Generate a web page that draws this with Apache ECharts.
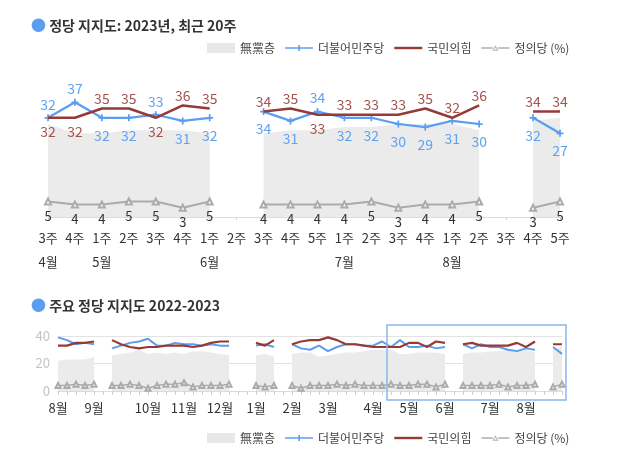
<!DOCTYPE html>
<html><head><meta charset="utf-8">
<script src="https://cdn.jsdelivr.net/npm/echarts@6/dist/echarts.min.js"></script>
<style>html,body{margin:0;padding:0;background:#fff}#c{width:640px;height:457px}</style>
</head><body><div id="c"></div>
<script>
// ---------- recent 20 weeks (2023) ----------
const weekLabels  = ['3주','4주','1주','2주','3주','4주','1주','2주','3주','4주','5주','1주','2주','3주','4주','1주','2주','3주','4주','5주'];
const monthLabels = ['4월','','5월','','','','6월','','','','','7월','','','','8월','','','',''];
const recentNone    = [30,27,27,28,28,28,27,null,27,28,28,29,29,30,30,30,28,null,31,32];
const recentMinju   = [32,37,32,32,33,31,32,null,34,31,34,32,32,30,29,31,30,null,32,27];
const recentPPP     = [32,32,35,35,32,36,35,null,34,35,33,33,33,33,35,32,36,null,34,34];
const recentJustice = [5,4,4,5,5,3,5,null,4,4,4,4,5,3,4,4,5,null,3,5];

// ---------- overview 2022-2023 (weekly) ----------
const overviewMonthIdx   = [0,4,10,14,18,22,26,30,35,39,43,48,52];
const overviewMonthNames = ['8월','9월','10월','11월','12월','1월','2월','3월','4월','5월','6월','7월','8월'];
const overviewTicks = [0,20,40];
const ovNone    = [22,23,23,23,25,null,26,27,28,30,27,28,27,28,27,29,29,28,27,26,null,null,26,27,25,null,27,28,28,25,26,27,28,28,29,30,30,30,27,27,28,28,28,27,null,27,28,28,29,29,30,30,30,28,null,31,32];
const ovMinju   = [39,37,34,35,34,null,31,33,35,36,38,33,33,35,34,34,33,34,33,33,null,null,33,34,32,null,34,31,30,33,29,32,34,34,33,33,36,32,37,32,32,33,31,32,null,34,31,34,32,32,30,29,31,30,null,32,27];
const ovPPP     = [33,33,35,35,36,null,37,34,32,31,32,32,33,33,33,32,33,35,36,36,null,null,35,33,37,null,34,36,37,37,39,37,34,34,33,32,32,32,32,35,35,32,36,35,null,34,35,33,33,33,33,35,32,36,null,34,34];
const ovJustice = [4,4,5,4,5,null,4,4,5,4,2,4,5,5,6,3,4,4,4,5,null,null,4,3,4,null,4,2,4,4,4,5,4,5,4,4,4,5,4,4,5,5,3,5,null,4,4,4,4,5,3,4,4,5,null,3,5];
const highlightFrom = 37, highlightTo = 56;

const C_BLUE = '#5a9ef2', C_RED = '#963a37', C_GREY = '#ababab', C_AREA = '#ebebeb';
const C_BLUE_T = '#5ea3f2', C_RED_T = '#a4534d';
const FONT = "'Noto Sans CJK KR', 'Noto Sans', sans-serif";
const PLUS = 'path://M3,0h2v8h-2z M0,3h8v2h-8z';

function blueOnTop(i){
  const b = recentMinju[i], r = recentPPP[i];
  if (b !== r) return b > r;
  const nb = recentMinju[i+1], nr = recentPPP[i+1];
  return nb != null && nb >= nr;
}
const lab = (pos) => pos === 'top' ? {position:'top', distance:3} : {position:'bottom', distance:7};
const minjuData = recentMinju.map((v,i)=> v==null ? null : {value:v, label: lab(blueOnTop(i)?'top':'bottom')});
const pppData   = recentPPP.map((v,i)=> v==null ? null : {value:v, label: lab(blueOnTop(i)?'bottom':'top')});

const weekIdx = recentNone.map((_,i)=>String(i));
const ovIdx = ovNone.map((_,i)=>String(i));

const legendData = [
  {name:'無黨층', icon:'rect', itemStyle:{color:'#e8e8e8'}},
  {name:'더불어민주당', icon:'path://M0,4.3h28v1.6h-28z M13.3,2h1.6v6.2h-1.6z', itemStyle:{color:C_BLUE}},
  {name:'국민의힘', icon:'path://M0,0h28v2.4h-28z', itemStyle:{color:C_RED}},
  {name:'정의당 (%)', icon:'path://M0,4.4h11.3v1.5h-11.3z M16.7,4.4h11.3v1.5h-11.3z M11,7.8L14,2.3L17,7.8Z M12.6,6.9L15.4,6.9L14,4.3Z', itemStyle:{color:'#b0b0b0'}}
];
const legendBase = {left:202, itemWidth:28, itemHeight:10, itemGap:10, selectedMode:false, symbolKeepAspect:true,
  textStyle:{fontSize:12, color:'#444', fontFamily:FONT}, data:legendData};

const chart = echarts.init(document.getElementById('c'), null, {renderer:'canvas'});
const titleRich = {d:{color:'#5a9ef2', fontSize:15, fontFamily:FONT}, t:{fontSize:14, fontWeight:'bold', color:'#333', fontFamily:FONT}};
chart.setOption({
  animation:false,
  textStyle:{fontFamily:FONT},
  title:[
    {left:26, top:13, text:'{d|●}{t| 정당 지지도: 2023년, 최근 20주}', textStyle:{rich:titleRich}},
    {left:26, top:293, text:'{d|●}{t| 주요 정당 지지도 2022-2023}', textStyle:{rich:titleRich}}
  ],
  legend:[ Object.assign({top:37}, legendBase), Object.assign({top:427}, legendBase) ],
  grid:[
    {left:48, right:80, top:93, bottom:240},
    {left:58, right:78, top:336, bottom:66}
  ],
  xAxis:[
    {gridIndex:0, type:'category', data:weekIdx, boundaryGap:false,
      axisLine:{lineStyle:{color:'#dcdcdc'}}, axisTick:{show:true, length:3, lineStyle:{color:'#d0d0d0'}},
      axisLabel:{interval:0, margin:9, fontSize:13, color:'#333', lineHeight:24,
        formatter:(v,i)=> weekLabels[i] + (monthLabels[i] ? '\n'+monthLabels[i] : '')}},
    {gridIndex:1, type:'category', data:ovIdx, boundaryGap:false,
      axisLine:{lineStyle:{color:'#dcdcdc'}}, axisTick:{show:true, interval:0, length:4, lineStyle:{color:'#d0d0d0'}},
      axisLabel:{interval:0, margin:11, fontSize:13, color:'#333',
        formatter:(v,i)=>{const k = overviewMonthIdx.indexOf(i); return k>=0 ? overviewMonthNames[k] : '';}}}
  ],
  yAxis:[
    {gridIndex:0, type:'value', min:0, max:40, show:false},
    {gridIndex:1, type:'value', min:overviewTicks[0], max:overviewTicks[2], interval:20,
      axisLine:{show:false}, axisTick:{show:false},
      axisLabel:{fontSize:13, color:'#c4c4c4', margin:8},
      splitLine:{lineStyle:{color:'#e2e2e2'}}}
  ],
  series:[
    {name:'無黨층', type:'line', xAxisIndex:0, yAxisIndex:0, data:recentNone, symbol:'none', silent:true,
      lineStyle:{width:0}, itemStyle:{color:'#e6e6e6'}, areaStyle:{color:C_AREA, opacity:1}, z:1},
    {name:'정의당 (%)', type:'line', xAxisIndex:0, yAxisIndex:0, data:recentJustice, symbol:'emptyTriangle', symbolSize:6,
      lineStyle:{color:C_GREY, width:2}, itemStyle:{color:C_GREY, borderWidth:1},
      label:{show:true, position:'bottom', distance:4, color:'#333', fontSize:13, fontFamily:FONT}, z:3},
    {name:'더불어민주당', type:'line', xAxisIndex:0, yAxisIndex:0, data:minjuData, symbol:PLUS, symbolSize:7,
      lineStyle:{color:C_BLUE, width:2.2}, itemStyle:{color:C_BLUE},
      label:{show:true, color:C_BLUE_T, fontSize:14, fontFamily:FONT}, z:4},
    {name:'국민의힘', type:'line', xAxisIndex:0, yAxisIndex:0, data:pppData, symbol:'circle', symbolSize:0.1,
      lineStyle:{color:C_RED, width:2.5}, itemStyle:{color:C_RED},
      label:{show:true, color:C_RED_T, fontSize:14, fontFamily:FONT}, z:5},

    {name:'無黨층', type:'line', xAxisIndex:1, yAxisIndex:1, data:ovNone, symbol:'none', silent:true,
      lineStyle:{width:0}, itemStyle:{color:'#e6e6e6'}, areaStyle:{color:C_AREA, opacity:1}, z:1},
    {name:'정의당 (%)', type:'line', xAxisIndex:1, yAxisIndex:1, data:ovJustice, symbol:'emptyTriangle', symbolSize:5,
      lineStyle:{color:C_GREY, width:1.5}, itemStyle:{color:C_GREY}, z:3},
    {name:'더불어민주당', type:'line', xAxisIndex:1, yAxisIndex:1, data:ovMinju, symbol:'none',
      lineStyle:{color:C_BLUE, width:2}, itemStyle:{color:C_BLUE}, z:4},
    {name:'국민의힘', type:'line', xAxisIndex:1, yAxisIndex:1, data:ovPPP, symbol:'none',
      lineStyle:{color:C_RED, width:2.2}, itemStyle:{color:C_RED}, z:5}
  ]
});
const p1 = chart.convertToPixel({xAxisIndex:1, yAxisIndex:1}, [highlightFrom, 48]);
const p2 = chart.convertToPixel({xAxisIndex:1, yAxisIndex:1}, [highlightTo, -6.5]);
chart.setOption({graphic:[{type:'rect', z:10, silent:true,
  shape:{x:p1[0]-4, y:p1[1], width:(p2[0]-p1[0])+8, height:p2[1]-p1[1]},
  style:{fill:'none', stroke:'#8bb7f0', lineWidth:1.5}}]});
</script></body></html>
